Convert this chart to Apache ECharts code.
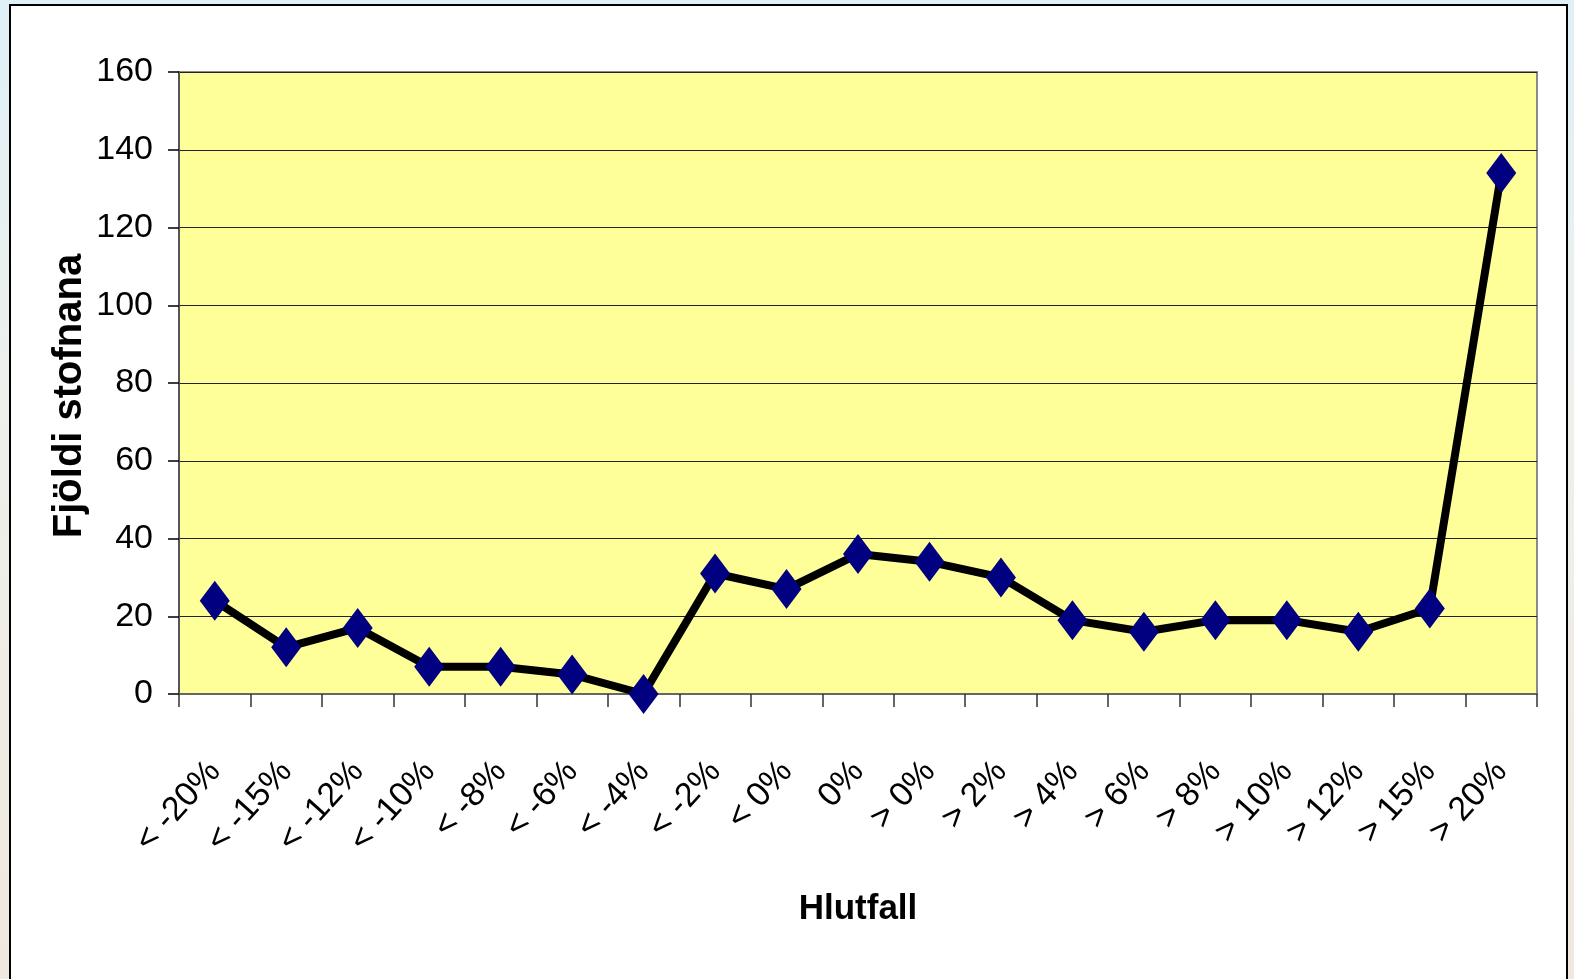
<!DOCTYPE html>
<html>
<head>
<meta charset="utf-8">
<script src="https://cdn.jsdelivr.net/npm/echarts@6/dist/echarts.min.js"></script>
<style>
  html, body { margin: 0; padding: 0; width: 1574px; height: 979px; overflow: hidden;
    background: linear-gradient(180deg, #dff0f7 0%, #eef0ec 40%, #f0e8de 100%); }
  #chart { position: absolute; left: 0; top: 0; width: 1574px; height: 979px; }
</style>
</head>
<body>
<div id="chart"></div>
<script>
const categories = ["< -20%", "< -15%", "< -12%", "< -10%", "< -8%", "< -6%", "< -4%", "< -2%", "< 0%", "0%", "> 0%", "> 2%", "> 4%", "> 6%", "> 8%", "> 10%", "> 12%", "> 15%", "> 20%"];
const counts = [24, 12, 17, 7, 7, 5, 0, 31, 27, 36, 34, 30, 19, 16, 19, 19, 16, 22, 134];
const yTicks = { min: 0, max: 160, interval: 20 };
const xTitle = "Hlutfall";
const yTitle = "Fjöldi stofnana";

const font = "'Liberation Sans', Arial, sans-serif";

const chart = echarts.init(document.getElementById('chart'), null, { renderer: 'canvas' });
chart.setOption({
  backgroundColor: 'transparent',
  animation: false,
  graphic: [{
    type: 'rect', z: -10,
    shape: { x: 10, y: 5, width: 1557, height: 990 },
    style: { fill: '#ffffff', stroke: '#000000', lineWidth: 2 }
  }, {
    type: 'text', z: 10,
    x: 70, y: 396, rotation: Math.PI / 2,
    style: {
      text: yTitle, fontFamily: font, fontWeight: 'bold', fontSize: 40,
      fill: '#000', align: 'center', verticalAlign: 'middle'
    }
  }],
  grid: {
    left: 179, top: 72, right: 37, bottom: 285,
    show: true, backgroundColor: '#FFFF99', borderColor: '#8a8a8a', borderWidth: 2
  },
  xAxis: {
    type: 'category',
    data: categories,
    boundaryGap: true,
    name: xTitle,
    nameLocation: 'middle',
    nameGap: 198,
    nameTextStyle: { fontFamily: font, fontWeight: 'bold', fontSize: 35, color: '#000' },
    axisLine: { lineStyle: { color: '#666', width: 2 } },
    axisTick: { show: true, length: 13, alignWithLabel: false, lineStyle: { color: '#333', width: 1.5 } },
    axisLabel: { rotate: 48, margin: 72, interval: 0, fontFamily: font, fontSize: 34, color: '#000' },
    splitLine: { show: false }
  },
  yAxis: {
    type: 'value',
    min: yTicks.min, max: yTicks.max, interval: yTicks.interval,
    axisLine: { show: true, lineStyle: { color: '#555', width: 2 } },
    axisTick: { show: true, length: 11, lineStyle: { color: '#000', width: 1.5 } },
    axisLabel: { margin: 26, fontFamily: font, fontSize: 34, color: '#000' },
    splitLine: { show: true, lineStyle: { color: '#222', width: 1.2 } }
  },
  series: [{
    type: 'line',
    data: counts,
    symbol: 'diamond',
    symbolSize: [30, 40],
    lineStyle: { color: '#000', width: 8 },
    itemStyle: { color: '#000080', borderWidth: 0 },
    z: 5
  }]
});
</script>
</body>
</html>
